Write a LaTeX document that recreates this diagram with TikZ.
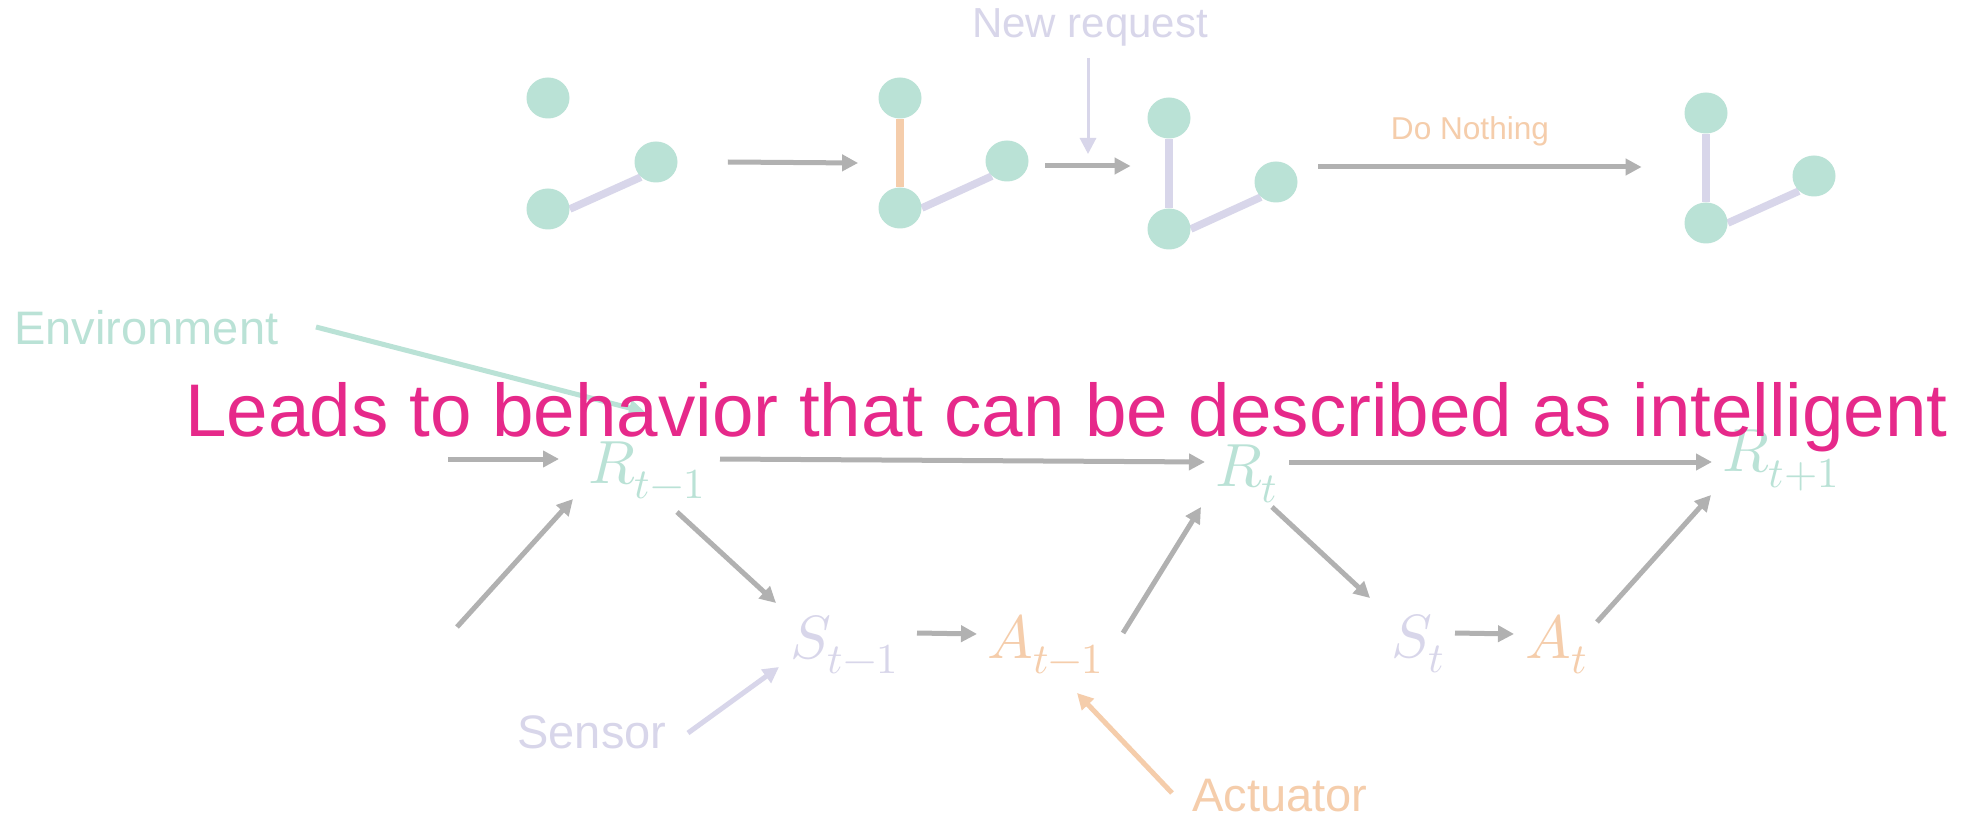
\documentclass[tikz,border=0pt]{standalone}
\usepackage{fontspec}
\setmainfont{Liberation Sans}
\usepackage{unicode-math}
\setmathfont{Latin Modern Math}
\usetikzlibrary{arrows.meta,shapes.geometric,backgrounds}

\definecolor{mint}{HTML}{BAE2D6}
\definecolor{lav}{HTML}{D8D6EA}
\definecolor{peach}{HTML}{F5CDAB}
\definecolor{arrowgray}{HTML}{B1B1B1}
\definecolor{hot}{HTML}{E6298A}

\tikzset{
  % one unit = one pixel of a 1977 x 818 canvas, y pointing down
  tip/.style={-{Triangle[length=8pt,width=8pt]}},
  grayarrow/.style={draw=arrowgray, line width=2.5pt, tip},
  lavarrow/.style={draw=lav, line width=2.5pt, tip},
  thinlavarrow/.style={draw=lav, line width=1.5pt, tip},
  peacharrow/.style={draw=peach, line width=2.5pt, tip},
  mintarrow/.style={draw=mint, line width=2.5pt, tip},
  vertex/.style={ellipse, fill=mint, draw=none, inner sep=0pt,
                 minimum width=21.5pt, minimum height=20.5pt},
  lavedge/.style={draw=lav, line width=3.8pt},
  peachedge/.style={draw=peach, line width=3.8pt},
  mathlbl/.style={anchor=base west, inner sep=0pt,
                  font=\fontsize{30.5}{36}\selectfont},
  caption/.style={anchor=base west, inner sep=0pt,
                  font=\fontsize{23.5}{28}\selectfont},
}

\begin{document}
\begin{tikzpicture}[x=0.5pt, y=-0.5pt]
\useasboundingbox (0,0) rectangle (1977,818);

% ---------- top row: four small graphs ----------
\node[vertex] (g1a) at (548,98) {};
\node[vertex] (g1b) at (548,209) {};
\node[vertex] (g1c) at (656,162) {};

\node[vertex] (g2a) at (900,98) {};
\node[vertex] (g2b) at (900,208) {};
\node[vertex] (g2c) at (1007,161) {};

\node[vertex] (g3a) at (1169,118) {};
\node[vertex] (g3b) at (1169,229) {};
\node[vertex] (g3c) at (1276,182) {};

\node[vertex] (g4a) at (1706,113) {};
\node[vertex] (g4b) at (1706,223) {};
\node[vertex] (g4c) at (1814,176) {};

\begin{scope}[on background layer]
  \fill[white] (0,0) rectangle (1977,818);
  \draw[lavedge] (g1b.east) -- (g1c.225);
  \draw[peachedge] (g2a.south) -- (g2b.north);
  \draw[lavedge] (g2b.east) -- (g2c.225);
  \draw[lavedge] (g3a.south) -- (g3b.north);
  \draw[lavedge] (g3b.east) -- (g3c.225);
  \draw[lavedge] (g4a.south) -- (g4b.north);
  \draw[lavedge] (g4b.east) -- (g4c.225);
\end{scope}

% transitions between the graphs
\draw[grayarrow] ([shift={(50,0)}]g1c.east) -- ([shift={(-20,-45)}]g2b.west);
\draw[grayarrow] ([shift={(16.5,5)}]g2c.east) -- ([shift={(-16.5,48)}]g3a.west);
\draw[grayarrow] ([shift={(20.5,-15)}]g3c.east) -- ([shift={(-42.5,54)}]g4a.west);

\node[anchor=base, inner sep=0pt, text=lav, font=\fontsize{21}{25}\selectfont]
  (newreq) at (1090,38) {New request};
\coordinate (nrtip) at (1088,154);
\draw[thinlavarrow] ([shift={(-2,20)}]newreq.base) -- (nrtip);

\node[anchor=base, inner sep=0pt, text=peach, font=\fontsize{15.8}{19}\selectfont]
  (donothing) at (1470,140) {Do Nothing};

% ---------- bottom: reward / sensor / actuator chain ----------
\node[mathlbl, text=mint]  (Rtm1) at (588,483)  {$R_{t-1}$};
\node[mathlbl, text=mint]  (Rt)   at (1215,487) {$R_t$};
\node[mathlbl, text=mint]  (Rtp1) at (1722,472) {$R_{t+1}$};
\node[mathlbl, text=lav]   (Stm1) at (790,658)  {$S_{t-1}$};
\node[mathlbl, text=peach] (Atm1) at (987,658)  {$A_{t-1}$};
\node[mathlbl, text=lav]   (St)   at (1391,657) {$S_t$};
\node[mathlbl, text=peach] (At)   at (1525,658) {$A_t$};

\coordinate (inR) at (448,459);
\coordinate (inLow) at (457,627);

\draw[grayarrow] (inR) -- ([shift={(-29,-24)}]Rtm1.base west);
\draw[grayarrow] ([shift={(132,-24)}]Rtm1.base west) -- ([shift={(-10,-25)}]Rt.base west);
\draw[grayarrow] ([shift={(74,-25)}]Rt.base west) -- ([shift={(-10,-10)}]Rtp1.base west);
\draw[grayarrow] (inLow) -- ([shift={(-15,16)}]Rtm1.base west);
\draw[grayarrow] ([shift={(89,29)}]Rtm1.base west) -- ([shift={(-14,-55)}]Stm1.base west);
\draw[grayarrow] ([shift={(127,-25)}]Stm1.base west) -- ([shift={(-10,-24)}]Atm1.base west);
\draw[grayarrow] ([shift={(136,-25)}]Atm1.base west) -- ([shift={(-14,20)}]Rt.base west);
\draw[grayarrow] ([shift={(57,20)}]Rt.base west) -- ([shift={(-21,-59)}]St.base west);
\draw[grayarrow] ([shift={(64,-24)}]St.base west) -- ([shift={(-11,-24)}]At.base west);
\draw[grayarrow] ([shift={(72,-36)}]At.base west) -- ([shift={(-11,23)}]Rtp1.base west);

% component labels
\node[caption, text=mint]  (env)  at (14,344)   {Environment};
\node[caption, text=lav]   (sens) at (517,748)  {Sensor};
\node[caption, text=peach] (act)  at (1192,811) {Actuator};

\draw[mintarrow] ([shift={(302,-17)}]env.base west) -- ([shift={(57,-71)}]Rtm1.base west);
\draw[lavarrow] ([shift={(171,-15)}]sens.base west) -- ([shift={(-11,9)}]Stm1.base west);
\draw[peacharrow] ([shift={(-20,-18)}]act.base west) -- ([shift={(90,35)}]Atm1.base west);

% headline set over everything
\node[anchor=base west, inner sep=0pt, text=hot, font=\fontsize{37.3}{44}\selectfont]
  (headline) at (185,437) {Leads to behavior that can be described as intelligent};
\end{tikzpicture}
\end{document}
